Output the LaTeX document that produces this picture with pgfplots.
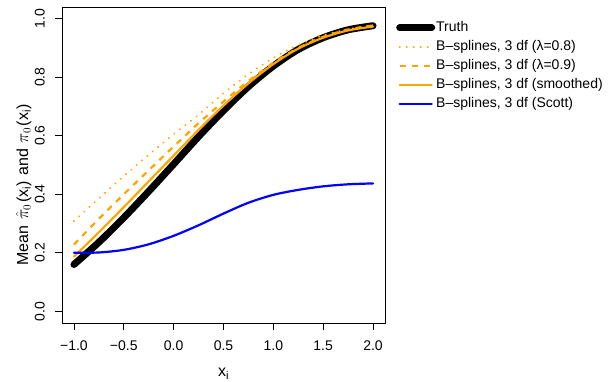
\documentclass[border=0pt]{standalone}
\usepackage{fontspec}
\setmainfont{Liberation Sans}
\usepackage{pgfplots}
\pgfplotsset{compat=1.18}
\definecolor{rorange}{HTML}{FFA500}
\definecolor{rblue}{HTML}{0000FF}
\begin{document}
\fontsize{14}{16}\selectfont
\begin{tikzpicture}
\useasboundingbox (0,0) rectangle (616pt,382pt);
\begin{axis}[
  at={(62pt,59pt)}, anchor=south west,
  scale only axis, width=323pt, height=316pt,
  xmin=-1.12, xmax=2.12, ymin=-0.04, ymax=1.04,
  axis line style={line width=0.8pt},
  tick pos=left, tick align=outside,
  major tick length=7pt,
  every tick/.style={black, line width=0.8pt},
  xtick={-1,-0.5,0,0.5,1,1.5,2},
  xticklabels={−1.0,−0.5,0.0,0.5,1.0,1.5,2.0},
  ytick={0,0.2,0.4,0.6,0.8,1},
  yticklabels={0.0,0.2,0.4,0.6,0.8,1.0},
  xticklabel style={font=\fontsize{14}{16}\selectfont, anchor=north, inner sep=0pt, yshift=-11pt},
  yticklabel style={font=\fontsize{14}{16}\selectfont, xshift=-10pt, rotate=90, anchor=south, inner sep=0pt},
  every axis x label/.style={at={(axis description cs:0.5,0)}, anchor=base, yshift=-54pt},
  every axis y label/.style={at={(axis description cs:0,0.5)}, xshift=-34pt, yshift=-20pt, rotate=90, anchor=base},
  xlabel={\fontsize{16}{18}\selectfont x\textsubscript{i}},
  ylabel={\fontsize{16}{18}\selectfont Mean\hspace{0.35em}$\hat{\pi}_0$\hspace{0.1em}(x\textsubscript{i})\hspace{0.35em}and\hspace{0.35em}$\pi_0$\hspace{0.1em}(x\textsubscript{i})},
  legend image code/.code={\draw[#1] (0pt,0pt) -- (32pt,0pt);},
  legend cell align=left,
  legend style={draw=none, fill=none, at={(1,1)}, anchor=north west,
    xshift=11pt, yshift=-13pt, inner sep=0pt, row sep=4pt,
    font=\fontsize{14}{16}\selectfont,
    nodes={inner sep=1pt, text height=10pt, text depth=3pt},
    /tikz/every odd column/.append style={column sep=0pt}},
]
\addplot[black, line width=7pt, line cap=round, smooth] coordinates {
(-1.00,0.160) (-0.75,0.236) (-0.50,0.320) (-0.25,0.410) (0.00,0.503) (0.25,0.597) (0.50,0.686) (0.75,0.768) (1.00,0.838) (1.25,0.895) (1.50,0.935) (1.75,0.962) (2.00,0.976)};
\addlegendentry{Truth}
\addplot[rorange, line width=2.2pt, line cap=round, dash pattern=on 0.01pt off 7pt, smooth] coordinates {
(-1.00,0.308) (-0.75,0.386) (-0.50,0.462) (-0.25,0.535) (0.00,0.605) (0.25,0.672) (0.50,0.745) (0.75,0.810) (1.00,0.866) (1.25,0.910) (1.50,0.943) (1.75,0.964) (2.00,0.978)};
\addlegendentry{B–splines, 3 df (λ=0.8)}
\addplot[rorange, line width=2.2pt, dash pattern=on 6pt off 6pt, smooth] coordinates {
(-1.00,0.228) (-0.75,0.316) (-0.50,0.400) (-0.25,0.482) (0.00,0.563) (0.25,0.643) (0.50,0.717) (0.75,0.787) (1.00,0.849) (1.25,0.900) (1.50,0.938) (1.75,0.963) (2.00,0.977)};
\addlegendentry{B–splines, 3 df (λ=0.9)}
\addplot[rorange, line width=2.2pt, line cap=round, smooth] coordinates {
(-1.00,0.187) (-0.75,0.270) (-0.50,0.356) (-0.25,0.444) (0.00,0.532) (0.25,0.620) (0.50,0.703) (0.75,0.779) (1.00,0.845) (1.25,0.898) (1.50,0.935) (1.75,0.960) (2.00,0.973)};
\addlegendentry{B–splines, 3 df (smoothed)}
\addplot[rblue, line width=2.2pt, line cap=round, smooth] coordinates {
(-1.00,0.200) (-0.75,0.201) (-0.50,0.210) (-0.25,0.229) (0.00,0.258) (0.25,0.294) (0.50,0.334) (0.75,0.371) (1.00,0.398) (1.25,0.415) (1.50,0.427) (1.75,0.434) (2.00,0.437)};
\addlegendentry{B–splines, 3 df (Scott)}
\end{axis}
\end{tikzpicture}
\end{document}
